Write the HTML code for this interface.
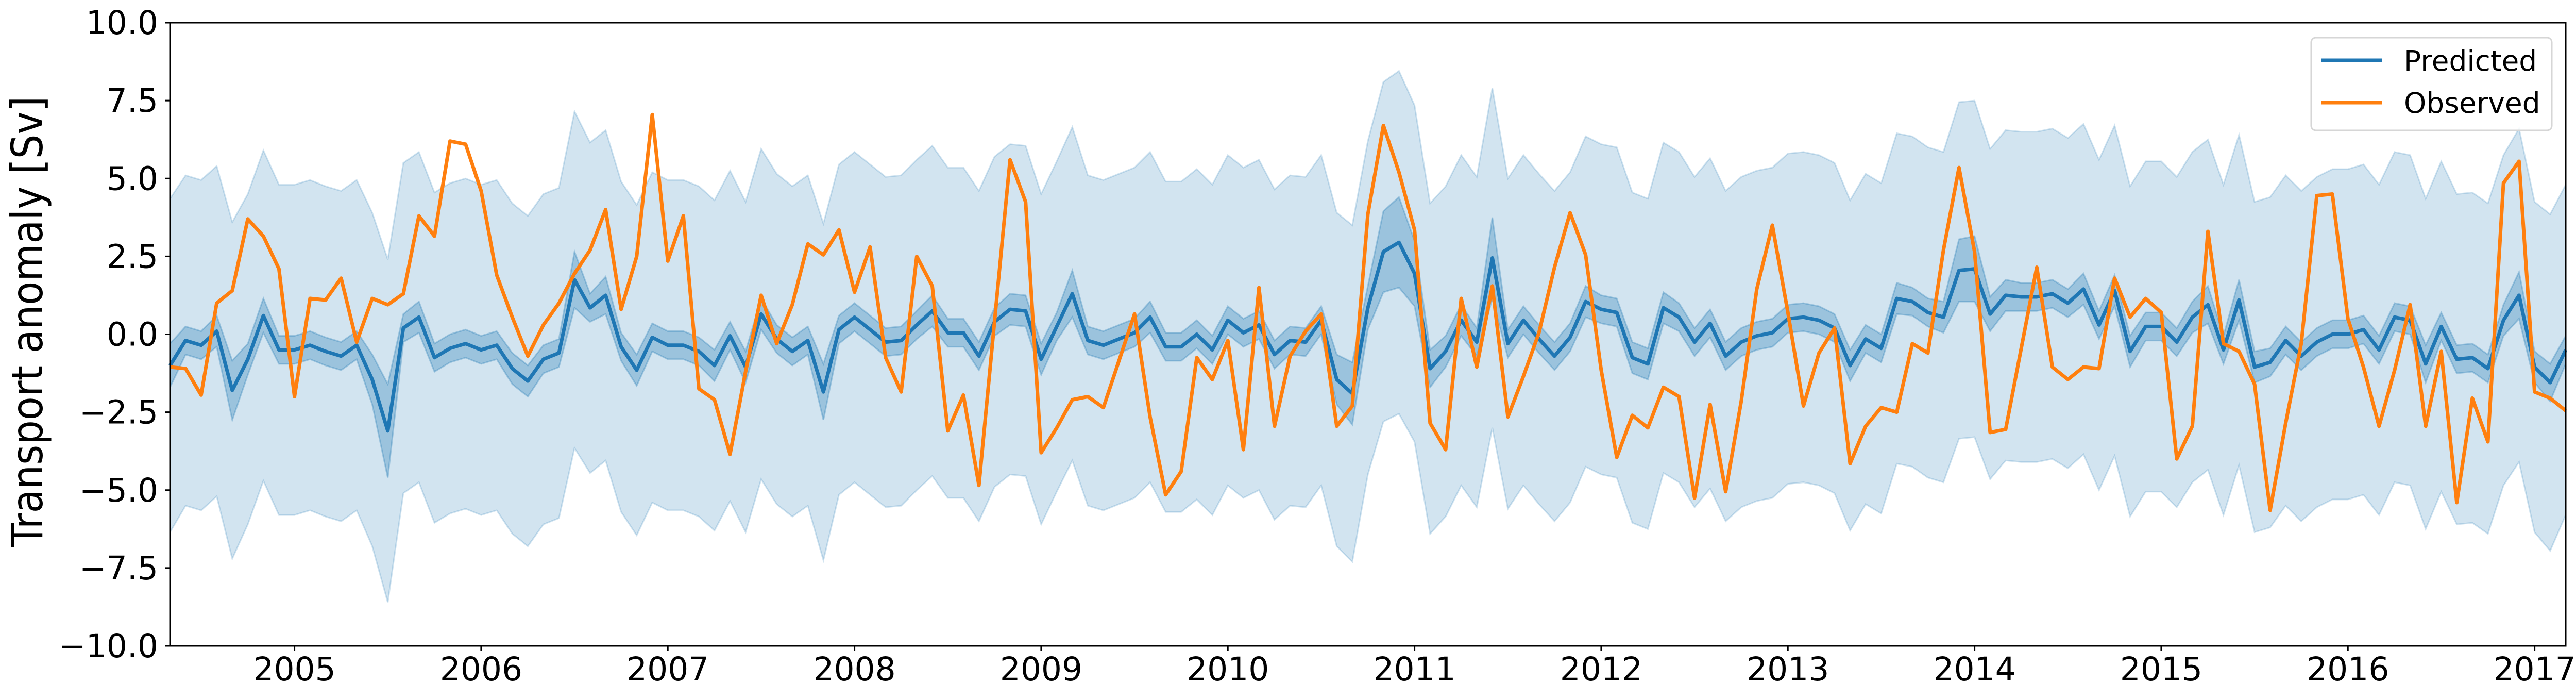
<!DOCTYPE html>
<html><head><meta charset="utf-8"><style>
html,body{margin:0;padding:0;background:#fff;}
svg{display:block;font-family:"DejaVu Sans","Liberation Sans",sans-serif;}
</style></head><body>
<svg id="chart" xmlns="http://www.w3.org/2000/svg" width="5028" height="1356" viewBox="0 0 5028 1356">
<rect x="0" y="0" width="5028" height="1356" fill="#fff"/>
<g id="bands"></g><g id="lines"></g><g id="axes"></g><g id="legend"></g>
</svg>
<script>
const startYear = 2004, startMonth = 4;
const yTicks = [-10, -7.5, -5, -2.5, 0, 2.5, 5, 7.5, 10];
const yTickLabels = ["\u221210.0","\u22127.5","\u22125.0","\u22122.5","0.0","2.5","5.0","7.5","10.0"];
const xTickYears = [2005,2006,2007,2008,2009,2010,2011,2012,2013,2014,2015,2016,2017];
const predicted = [-1.0,-0.2,-0.35,0.1,-1.8,-0.8,0.6,-0.5,-0.5,-0.35,-0.55,-0.7,-0.35,-1.45,-3.1,0.2,0.55,-0.75,-0.45,-0.3,-0.5,-0.35,-1.1,-1.5,-0.8,-0.6,1.75,0.85,1.25,-0.4,-1.15,-0.1,-0.35,
-0.35,-0.55,-1.0,-0.05,-1.05,0.65,-0.15,-0.55,-0.2,-1.85,0.15,0.55,0.15,-0.25,-0.2,0.3,0.75,0.05,0.05,-0.7,0.4,0.8,0.75,-0.8,0.25,1.3,-0.2,-0.35,-0.15,0.05,0.55,-0.4,-0.4,0,-0.5,0.45,0.05,0.3,-0.65,-0.2,
-0.25,0.45,-1.45,-1.9,0.85,2.65,2.95,1.95,-1.1,-0.55,0.45,-0.25,2.45,-0.3,0.45,-0.15,-0.7,-0.1,1.05,0.8,0.7,-0.75,-0.95,0.85,0.55,-0.25,0.35,-0.7,-0.25,-0.05,0.05,0.5,0.55,0.45,0.2,-1.0,-0.15,-0.45,1.15,1.05,0.7,0.55,
2.05,2.1,0.65,1.25,1.2,1.2,1.3,1.0,1.45,0.3,1.4,-0.55,0.25,0.25,-0.25,0.55,0.95,-0.5,1.1,-1.05,-0.9,-0.2,-0.7,-0.25,0,0,0.15,-0.5,0.55,0.45,-0.95,0.25,-0.8,-0.75,-1.1,0.45,1.25,-1.05,-1.55,-0.5];
const observed = [-1.05,-1.1,-1.95,1.0,1.4,3.7,3.15,2.1,-2.0,1.15,1.1,1.8,-0.25,1.15,0.95,1.3,3.8,3.15,6.2,6.1,4.6,1.9,0.55,-0.7,0.3,1.0,1.95,2.7,4.0,0.8,2.5,7.05,2.35,
3.8,-1.75,-2.1,-3.85,-1.2,1.25,-0.3,0.95,2.9,2.55,3.35,1.35,2.8,-0.75,-1.85,2.5,1.55,-3.1,-1.95,-4.85,0.4,5.6,4.25,-3.8,-3.0,-2.1,-2.0,-2.35,-0.85,0.65,-2.65,-5.15,-4.4,-0.75,-1.45,-0.2,-3.7,1.5,-2.95,-0.7,
0.1,0.65,-2.95,-2.3,3.85,6.7,5.2,3.35,-2.85,-3.7,1.15,-1.05,1.55,-2.65,-1.35,0.05,2.15,3.9,2.55,-1.15,-3.95,-2.6,-3.0,-1.7,-2.0,-5.25,-2.25,-5.05,-2.15,1.45,3.5,0.7,-2.3,-0.6,0.2,-4.15,-2.95,-2.35,-2.5,-0.3,-0.6,2.7,
5.35,2.65,-3.15,-3.05,-0.45,2.15,-1.05,-1.45,-1.05,-1.1,1.8,0.55,1.15,0.7,-4.0,-2.95,3.3,-0.3,-0.55,-1.6,-5.65,-2.85,-0.3,4.45,4.5,0.5,-1.05,-2.95,-1.15,0.95,-2.95,-0.55,-5.4,-2.05,-3.45,4.85,5.55,-1.85,-2.05,-2.45];
const innerHW = [0.7,.45,.45,.5,.95,.5,.55,.45,.45,.45,
.45,.45,.45,.8,1.5,.45,.5,.45,.45,.45,
.45,.45,.5,.5,.45,.45,.9,.45,.6,.45,
.5,.45,.45,.45,.45,.5,.45,.5,.5,.45,
.45,.45,.9,.45,.45,.45,.45,.45,.45,.5,
.45,.45,.45,.45,.5,.5,.5,.45,.75,.45,
.45,.45,.45,.5,.45,.45,.45,.45,.45,.45,
.45,.45,.45,.45,.45,.8,1.0,.7,1.3,1.45,
1.05,.6,.5,.5,.45,1.3,.45,.45,.45,.45,
.45,.5,.45,.45,.5,.5,.5,.45,.45,.45,
.45,.45,.45,.45,.45,.45,.45,.45,.5,.45,
.45,.5,.45,.45,.5,1.0,1.05,.55,.5,.45,
.45,.45,.45,.5,.45,.5,.5,.45,.45,.45,
.5,.6,.45,.65,.5,.45,.45,.45,.45,.45,
.45,.45,.45,.45,.45,.6,.45,.45,.45,.45,
.5,.75,.5,.6,.45];
const outerHW = [5.35,5.3,5.3,5.3,5.4,5.3,5.3,5.3,5.3,5.3,
5.3,5.3,5.3,5.35,5.5,5.3,5.3,5.3,5.3,5.3,
5.3,5.3,5.3,5.3,5.3,5.3,5.4,5.3,5.3,5.3,
5.3,5.3,5.3,5.3,5.3,5.3,5.3,5.3,5.3,5.3,
5.3,5.3,5.4,5.3,5.3,5.3,5.3,5.3,5.3,5.3,
5.3,5.3,5.3,5.3,5.3,5.3,5.3,5.3,5.35,5.3,
5.3,5.3,5.3,5.3,5.3,5.3,5.3,5.3,5.3,5.3,
5.3,5.3,5.3,5.3,5.3,5.35,5.4,5.35,5.45,5.5,
5.4,5.3,5.3,5.3,5.3,5.45,5.3,5.3,5.3,5.3,
5.3,5.3,5.3,5.3,5.3,5.3,5.3,5.3,5.3,5.3,
5.3,5.3,5.3,5.3,5.3,5.3,5.3,5.3,5.3,5.3,
5.3,5.3,5.3,5.3,5.3,5.4,5.4,5.3,5.3,5.3,
5.3,5.3,5.3,5.3,5.3,5.3,5.3,5.3,5.3,5.3,
5.3,5.3,5.3,5.3,5.3,5.3,5.3,5.3,5.3,5.3,
5.3,5.3,5.3,5.3,5.3,5.3,5.3,5.3,5.3,5.3,
5.3,5.35,5.3,5.4,5.3];

const NS = "http://www.w3.org/2000/svg";
const L = 330, R = 4980, T = 44, B = 1253;
const x0 = startYear + (startMonth)/12, x1 = x0 + (predicted.length - 1)/12;
function xs(t){ return L + (t - x0) / (x1 - x0) * (R - L); }
function ys(v){ return T + (10 - v) / 20 * (B - T); }
function tOf(i){ return x0 + i/12; }
function mk(tag, attrs, parent){ const e = document.createElementNS(NS, tag); for (const k in attrs) e.setAttribute(k, attrs[k]); parent.appendChild(e); return e; }

function bandPts(hw){
  const up = predicted.map((v,i)=>xs(tOf(i)).toFixed(1)+","+ys(v+hw[i]).toFixed(1));
  const lo = predicted.map((v,i)=>xs(tOf(i)).toFixed(1)+","+ys(v-hw[i]).toFixed(1)).reverse();
  return up.concat(lo).join(" ");
}
const bands = document.getElementById("bands");
const ob = mk("polygon",{points:bandPts(outerHW),fill:"#1f77b4","fill-opacity":"0.2",stroke:"#1f77b4","stroke-opacity":"0.2","stroke-width":"3"},bands);


const ib = mk("polygon",{points:bandPts(innerHW),fill:"#1f77b4","fill-opacity":"0.3",stroke:"#1f77b4","stroke-opacity":"0.3","stroke-width":"3"},bands);



const lines = document.getElementById("lines");
const pl = mk("polyline",{points:predicted.map((v,i)=>xs(tOf(i)).toFixed(1)+","+ys(v).toFixed(1)).join(" "),fill:"none",stroke:"#1f77b4","stroke-width":"7","stroke-linejoin":"round"},lines);


const ol = mk("polyline",{points:observed.map((v,i)=>xs(tOf(i)).toFixed(1)+","+ys(v).toFixed(1)).join(" "),fill:"none",stroke:"#ff7f0e","stroke-width":"7","stroke-linejoin":"round"},lines);



const axes = document.getElementById("axes");
const frame = mk("rect",{x:L,y:T,width:R-L,height:B-T,fill:"none",stroke:"#000","stroke-width":"3"},axes);


yTicks.forEach((v,i)=>{
  const y = ys(v);
  const tk = mk("line",{x1:L-10,x2:L,y1:y,y2:y,stroke:"#000","stroke-width":"3"},axes);
  
  
  const tx = mk("text",{x:307,y:y+22,"text-anchor":"end","font-size":"63",fill:"#000"},axes);
  tx.textContent = yTickLabels[i];
  
  
});
xTickYears.forEach(yr=>{
  const x = xs(yr);
  const tk = mk("line",{x1:x,x2:x,y1:B,y2:B+10,stroke:"#000","stroke-width":"3"},axes);
  
  
  const tx = mk("text",{x:x,y:1320,"text-anchor":"middle","font-size":"63",fill:"#000"},axes);
  tx.textContent = String(yr);
  
  
});
const yl = mk("text",{x:0,y:0,"text-anchor":"middle","font-size":"84",fill:"#000",transform:"translate(82,624) rotate(-90)",textLength:"874",lengthAdjust:"spacingAndGlyphs"},axes);
yl.textContent = "Transport anomaly [Sv]";



const lg = document.getElementById("legend");


const box = mk("rect",{x:4486,y:73,width:467,height:180,rx:9,fill:"#fff","fill-opacity":"0.8",stroke:"#d6d6d6","stroke-width":"3"},lg);


const entries = [["Predicted","#1f77b4",117,137],["Observed","#ff7f0e",199,219]];
entries.forEach(e=>{
  const ln = mk("line",{x1:4505,x2:4623,y1:e[2],y2:e[2],stroke:e[1],"stroke-width":"7"},lg);
  
  
  const t = mk("text",{x:4666,y:e[3],"font-size":"55",fill:"#000"},lg);
  t.textContent = e[0];
  
  
});
</script>
</body></html>
